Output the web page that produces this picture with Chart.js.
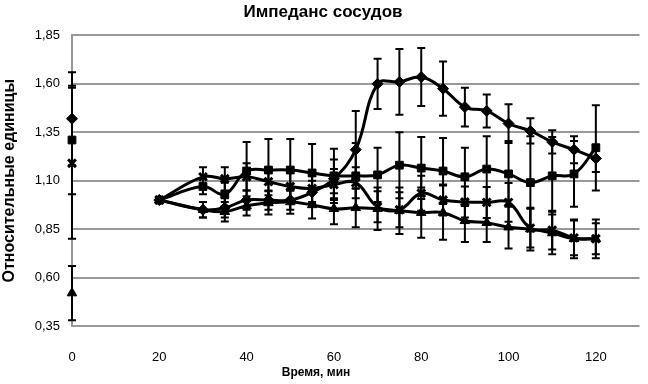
<!DOCTYPE html>
<html>
<head>
<meta charset="utf-8">
<script src="https://cdn.jsdelivr.net/npm/chart.js@4.4.1/dist/chart.umd.min.js"></script>
<style>
  html, body { margin: 0; padding: 0; background: #fff; }
  #wrap { width: 648px; height: 384px; }
</style>
</head>
<body>
<div id="wrap"><canvas id="chartCanvas"></canvas></div>
<script>
// время, мин
const times = [20, 30, 35, 40, 45, 50, 55, 60, 65, 70, 75, 80, 85, 90, 95, 100, 105, 110, 115, 120];
const xTicks = [0, 20, 40, 60, 80, 100, 120];
const yTicks = [0.35, 0.60, 0.85, 1.10, 1.35, 1.60, 1.85];
const xTitle = 'Время, мин';

// исходный уровень (0 мин)
const baseDiamond = 1.42, baseDiamondErr = 0.24;
const baseSquare = 1.31, baseSquareErr = 0.28;
const baseCross = 1.19, baseCrossErr = 0.39;
const baseTriangle = 0.52, baseTriangleErr = 0.14;

const diamondVals = [1.00, 0.95, 0.96, 1.00, 1.00, 1.00, 1.04, 1.11, 1.26, 1.60, 1.61, 1.635, 1.575, 1.48, 1.46, 1.395, 1.357, 1.30, 1.26, 1.215];
const diamondErr  = [0, 0.04, 0.05, 0.05, 0.05, 0.05, 0.06, 0.10, 0.20, 0.13, 0.17, 0.15, 0.14, 0.10, 0.085, 0.10, 0.065, 0.06, 0.07, 0.07];

const squareVals = [1.00, 1.07, 1.03, 1.15, 1.155, 1.155, 1.14, 1.125, 1.125, 1.13, 1.18, 1.165, 1.15, 1.12, 1.16, 1.135, 1.09, 1.125, 1.135, 1.27];
const squareErr  = [0, 0.04, 0.06, 0.15, 0.16, 0.16, 0.15, 0.14, 0.17, 0.14, 0.17, 0.16, 0.17, 0.15, 0.17, 0.17, 0.24, 0.20, 0.17, 0.22];

const crossVals = [1.00, 1.12, 1.11, 1.12, 1.095, 1.07, 1.06, 1.08, 1.09, 0.965, 0.95, 1.035, 1.00, 0.99, 0.988, 0.988, 0.855, 0.845, 0.805, 0.80];
const crossErr  = [0, 0.05, 0.06, 0.07, 0.07, 0.07, 0.08, 0.08, 0.08, 0.08, 0.09, 0.09, 0.08, 0.08, 0.08, 0.10, 0.10, 0.10, 0.09, 0.08];

const triangleVals = [1.00, 0.95, 0.94, 0.97, 0.985, 0.99, 0.975, 0.955, 0.96, 0.955, 0.945, 0.935, 0.935, 0.893, 0.883, 0.86, 0.85, 0.83, 0.80, 0.80];
const triangleErr  = [0, 0.04, 0.05, 0.05, 0.06, 0.06, 0.07, 0.08, 0.10, 0.11, 0.12, 0.13, 0.14, 0.11, 0.10, 0.11, 0.11, 0.11, 0.10, 0.10];

const toPoints = vals => vals.map((v, i) => ({ x: times[i], y: v }));

function lineSet(vals, errs, style, radius) {
  return {
    data: toPoints(vals),
    errors: errs,
    clip: false,
    borderColor: '#000',
    backgroundColor: '#000',
    borderWidth: 3,
    tension: 0.4,
    pointStyle: style,
    pointRadius: radius,
    pointBorderWidth: style === 'crossRot' ? 3 : 1,
    pointBorderColor: '#000',
    pointBackgroundColor: '#000'
  };
}

function baseSet(val, err, style, radius) {
  return {
    data: [{ x: 0, y: val }],
    errors: [err],
    clip: false,
    showLine: false,
    borderColor: '#000',
    backgroundColor: '#000',
    pointStyle: style,
    pointRadius: radius,
    pointBorderWidth: style === 'crossRot' ? 3 : 1
  };
}

// усы погрешностей
const errorBars = {
  id: 'errorBars',
  beforeDatasetsDraw(chart) {
    const { ctx, scales: { x, y } } = chart;
    ctx.save();
    ctx.strokeStyle = '#000';
    ctx.lineWidth = 2;
    chart.data.datasets.forEach(ds => {
      if (!ds.errors) return;
      ds.data.forEach((p, i) => {
        const e = ds.errors[i];
        if (!e) return;
        const px = x.getPixelForValue(p.x);
        const top = y.getPixelForValue(p.y + e);
        const bot = y.getPixelForValue(p.y - e);
        ctx.beginPath();
        ctx.moveTo(px, top); ctx.lineTo(px, bot);
        ctx.moveTo(px - 4, top); ctx.lineTo(px + 4, top);
        ctx.moveTo(px - 4, bot); ctx.lineTo(px + 4, bot);
        ctx.stroke();
      });
    });
    ctx.restore();
  }
};

// подпись оси X (в оригинале сдвинута левее центра области)
const xAxisTitle = {
  id: 'xAxisTitle',
  afterDraw(chart) {
    const { ctx } = chart;
    ctx.save();
    ctx.font = "bold 12px 'Liberation Sans', Arial, sans-serif";
    ctx.fillStyle = '#000';
    ctx.textAlign = 'center';
    ctx.textBaseline = 'middle';
    ctx.fillText(xTitle, 316, 373);
    ctx.restore();
  }
};

const tickFont = { family: "'Liberation Sans Narrow', 'Arial Narrow', sans-serif", size: 13 };
const boldFont = { family: "'Liberation Sans', Arial, sans-serif", size: 16, weight: 'bold' };

new Chart(document.getElementById('chartCanvas'), {
  type: 'line',
  data: {
    datasets: [
      lineSet(diamondVals, diamondErr, 'rectRot', 5.5),
      lineSet(squareVals, squareErr, 'rect', 5.5),
      lineSet(crossVals, crossErr, 'crossRot', 5.5),
      lineSet(triangleVals, triangleErr, 'triangle', 5.5),
      baseSet(baseDiamond, baseDiamondErr, 'rectRot', 5.5),
      baseSet(baseSquare, baseSquareErr, 'rect', 5.5),
      baseSet(baseCross, baseCrossErr, 'crossRot', 5.5),
      baseSet(baseTriangle, baseTriangleErr, 'triangle', 5.5)
    ]
  },
  options: {
    responsive: true,
    maintainAspectRatio: false,
    animation: false,
    layout: { padding: { left: 0, right: 2, top: 0, bottom: 0 } },
    scales: {
      x: {
        type: 'linear',
        min: 0,
        max: 130,
        afterBuildTicks: s => { s.ticks = xTicks.map(v => ({ value: v })); },
        afterFit: s => { s.height = 58; },
        grid: { display: false, drawTicks: false },
        border: { display: false },
        ticks: { font: tickFont, color: '#000', padding: 24, maxRotation: 0 }
      },
      y: {
        min: 0.35,
        max: 1.85,
        afterBuildTicks: s => { s.ticks = yTicks.map(v => ({ value: v })); },
        afterFit: s => { s.width = 72; },
        grid: { color: '#999', lineWidth: 2, drawTicks: false },
        border: { display: true, color: '#999', width: 2 },
        ticks: {
          font: tickFont,
          color: '#000',
          padding: 12,
          callback: v => v.toFixed(2).replace('.', ',')
        },
        title: { display: true, text: 'Относительные единицы', font: boldFont, color: '#000', padding: { top: 0, bottom: 0 } }
      }
    },
    plugins: {
      legend: { display: false },
      tooltip: { enabled: false },
      title: {
        display: true,
        text: 'Импеданс сосудов',
        font: { ...boldFont, size: 17 },
        color: '#000',
        padding: { top: 2, bottom: 13 }
      }
    }
  },
  plugins: [errorBars, xAxisTitle]
});
</script>
</body>
</html>
